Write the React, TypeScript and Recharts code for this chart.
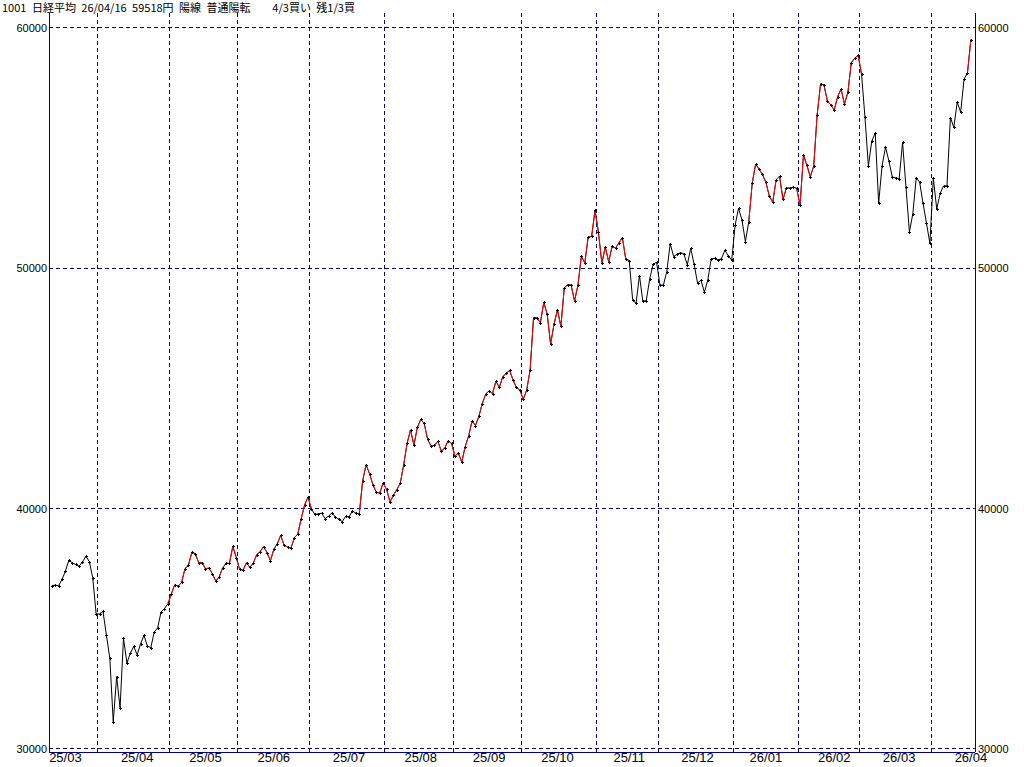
import React from 'react';
import { LineChart, Line, XAxis, YAxis, ReferenceLine } from 'recharts';

// Daily closes (index 0 = 25/03/11 ... index 269 = 26/04/16)
const closes: number[] = [
  36793, 36819, 36790, 37053, 37396, 37846, 37751, 37677, 37608, 37780,
  38027, 37800, 37120, 35617, 35624, 35725, 34736, 33781, 31136, 33012,
  31714, 34609, 33586, 33982, 34267, 33920, 34377, 34730, 34279, 34220,
  34868, 35039, 35705, 35839, 36045, 36452, 36830, 36779, 36928, 37503,
  37644, 38183, 38128, 37755, 37753, 37498, 37529, 37298, 36985, 37160,
  37531, 37724, 37722, 38432, 37965, 37470, 37446, 37747, 37554, 37741,
  38088, 38211, 38421, 38173, 37834, 38311, 38536, 38885, 38488, 38403,
  38354, 38790, 38942, 39584, 40150, 40487, 39986, 39762, 39785, 39810,
  39587, 39688, 39821, 39646, 39569, 39459, 39678, 39663, 39901, 39819,
  39774, 41171, 41826, 41456, 40998, 40674, 40654, 41069, 40799, 40290,
  40549, 40794, 41059, 41820, 42718, 43274, 42649, 43378, 43714, 43546,
  42888, 42610, 42633, 42807, 42394, 42520, 42828, 42718, 42188, 42310,
  41938, 42580, 43018, 43643, 43459, 43837, 44372, 44768, 44902, 44790,
  45303, 45045, 45493, 45630, 45754, 45355, 45043, 44932, 44550, 44936,
  45769, 47944, 47950, 47734, 48580, 48089, 46848, 47673, 48277, 47582,
  49185, 49316, 49307, 48641, 49299, 50512, 50219, 51307, 51325, 52411,
  51497, 50212, 50884, 50276, 50912, 50842, 51063, 51281, 50376, 50323,
  48702, 48537, 49700, 48625, 48659, 49559, 50167, 50253, 49303, 49303,
  49864, 51028, 50491, 50581, 50655, 50602, 50148, 50836, 50168, 49383,
  49512, 49001, 49507, 50402, 50412, 50344, 50407, 50750, 50526, 50339,
  51800, 52500, 52010, 51110, 51940, 53540, 54340, 54130, 53910, 53580,
  53010, 52750, 53680, 53830, 52870, 53340, 53340, 53380, 53330, 52620,
  54720, 54290, 53810, 54260, 56380, 57670, 57630, 56960, 56800, 56590,
  57140, 57460, 56840, 57320, 58560, 58740, 58860, 58070, 56280, 54260,
  55300, 55620, 52710, 54260, 55040, 54470, 53800, 53770, 53720, 55240,
  53380, 51520, 52260, 53770, 53590, 52700, 51880, 51040, 53750, 52470,
  53120, 53430, 53430, 56270, 55870, 56910, 56500, 57870, 58140, 59518,
];

// index ranges (inclusive) drawn in red (buy signal)
const redRanges: [number, number][] = [[34, 76], [90, 169], [204, 237], [268, 269]];

// first trading day index of each month (vertical grid lines)
const monthStarts: number[] = [14, 35, 55, 76, 98, 118, 138, 160, 178, 200, 219, 237, 258];

// month label positions and texts
const monthLabelIdx: number[] = [4, 25, 45, 65, 87, 108, 128, 148, 169, 189, 209, 229, 248, 269];
const monthLabels: string[] = ['25/03', '25/04', '25/05', '25/06', '25/07', '25/08', '25/09', '25/10', '25/11', '25/12', '26/01', '26/02', '26/03', '26/04'];

const yTicks: number[] = [30000, 40000, 50000, 60000];
const title = '1001 日経平均 26/04/16 59518円 陽線 普通陽転    4/3買い 残1/3買';

const NAVY = '#000080';

const inRed = (i: number) => redRanges.some(([a, b]) => i >= a && i <= b);
const data = closes.map((v, i) => ({ i, v, r: inRed(i) ? v : null }));

const Cross = (props: any) => {
  const { cx, cy, index } = props;
  if (cx == null || cy == null) return <g key={`c${index}`} />;
  const px = Math.round(cx);
  const py = Math.round(cy);
  return (
    <path
      key={`c${index}`}
      d={`M${px - 1},${py + 0.5}H${px + 2}M${px + 0.5},${py - 1}V${py + 2}`}
      stroke="#000"
      strokeWidth={1}
      fill="none"
      shapeRendering="crispEdges"
    />
  );
};

const axisFont = { fontFamily: '"Liberation Sans Narrow", "Liberation Sans", Arial, sans-serif', fontSize: 13, fill: '#000' };
const yFont = { fontFamily: '"Liberation Sans", Arial, sans-serif', fontSize: 11, fill: '#000' };

export default function App() {
  return (
    <div style={{ position: 'absolute', left: 0, top: 0, width: 1024, height: 767, background: '#fff', overflow: 'hidden' }}>
      <LineChart width={1024} height={767} data={data} margin={{ top: 13, right: 0, bottom: 0, left: 0 }}>
        <XAxis
          xAxisId="b"
          dataKey="i"
          type="number"
          domain={[-0.8, 270.2]}
          ticks={monthLabelIdx}
          interval={0}
          tickFormatter={(v: number) => monthLabels[monthLabelIdx.indexOf(v)] ?? ''}
          tick={axisFont}
          tickLine={false}
          tickSize={0}
          tickMargin={1}
          height={15}
          axisLine={{ stroke: NAVY, shapeRendering: 'crispEdges' }}
        />
        <XAxis
          xAxisId="t"
          dataKey="i"
          type="number"
          orientation="top"
          domain={[-0.8, 270.2]}
          height={0}
          tick={false}
          tickLine={false}
          axisLine={{ stroke: NAVY, shapeRendering: 'crispEdges' }}
        />
        <YAxis
          yAxisId="left"
          domain={[29875, 60624]}
          ticks={yTicks}
          interval={0}
          width={49}
          tick={yFont}
          tickLine={false}
          tickSize={0}
          tickMargin={2}
          axisLine={{ stroke: NAVY, shapeRendering: 'crispEdges' }}
          allowDataOverflow
        />
        <YAxis
          yAxisId="right"
          orientation="right"
          domain={[29875, 60624]}
          ticks={yTicks}
          interval={0}
          width={49}
          tick={yFont}
          tickLine={false}
          tickSize={0}
          tickMargin={3}
          axisLine={{ stroke: NAVY, shapeRendering: 'crispEdges' }}
          allowDataOverflow
        />
        {yTicks.map((t) => (
          <ReferenceLine
            key={`h${t}`}
            xAxisId="b"
            yAxisId="left"
            y={t}
            stroke={NAVY}
            strokeDasharray="4 3"
            shapeRendering="crispEdges"
          />
        ))}
        {monthStarts.map((m) => (
          <ReferenceLine
            key={`v${m}`}
            xAxisId="b"
            yAxisId="left"
            x={m - 0.5}
            stroke={NAVY}
            strokeDasharray="4 3"
            shapeRendering="crispEdges"
          />
        ))}
        <Line
          xAxisId="b"
          yAxisId="left"
          dataKey="v"
          stroke="#000"
          strokeWidth={1}
          dot={false}
          activeDot={false}
          isAnimationActive={false}
          type="linear"
        />
        <Line
          xAxisId="b"
          yAxisId="left"
          dataKey="r"
          stroke="#ff0000"
          strokeWidth={1}
          dot={false}
          activeDot={false}
          connectNulls={false}
          isAnimationActive={false}
          type="linear"
        />
        <Line
          xAxisId="b"
          yAxisId="left"
          dataKey="v"
          stroke="none"
          dot={Cross}
          activeDot={false}
          isAnimationActive={false}
          type="linear"
        />
      </LineChart>
      <div
        style={{
          position: 'absolute',
          left: 2,
          top: 1,
          fontFamily: '"Noto Sans CJK JP", sans-serif',
          fontSize: 11,
          lineHeight: '12px',
          wordSpacing: 3,
          whiteSpace: 'pre',
          color: '#000',
        }}
      >
        {title}
      </div>
    </div>
  );
}
